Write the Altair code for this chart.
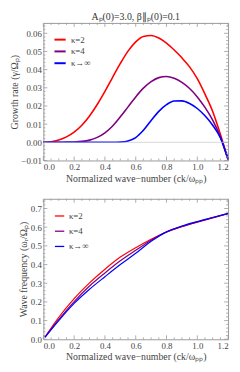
import altair as alt
import pandas as pd

# ---------------- data ----------------
series_names = ["κ=2", "κ=4", "κ→∞"]
series_colors = ["#ff0000", "#800080", "#0000ff"]

k_top = [0.0, 0.05, 0.1, 0.15, 0.2, 0.25, 0.3, 0.35, 0.4, 0.45, 0.5, 0.55, 0.6,
         0.65, 0.7, 0.75, 0.8, 0.85, 0.9, 0.95, 1.0, 1.05, 1.1, 1.15, 1.2]
growth_k2 = [0.0, 0.0003, 0.0013, 0.0030, 0.0056, 0.0094, 0.0145, 0.0208, 0.0280,
             0.0358, 0.0434, 0.0502, 0.0553, 0.0582, 0.0588, 0.0574, 0.0546, 0.0508,
             0.0465, 0.0415, 0.0350, 0.0265, 0.0170, 0.0045, -0.0095]
growth_k4 = [0.0, 0.0, 0.0, 0.0001, 0.0002, 0.0005, 0.0012, 0.0027, 0.0052, 0.0090,
             0.0140, 0.0195, 0.0250, 0.0298, 0.0334, 0.0356, 0.0362, 0.0352, 0.0330,
             0.0296, 0.0250, 0.0192, 0.0122, 0.0030, -0.0095]
growth_kinf = [0.0, 0.0, 0.0, 0.0, 0.0, 0.0, 0.0, 0.0, 0.0, 0.0, 0.0001, 0.0007, 0.0026,
               0.0066, 0.0120, 0.0170, 0.0207, 0.0227, 0.0228, 0.0214, 0.0186, 0.0146,
               0.0094, 0.0025, -0.0095]

k_bot = [0.01, 0.1, 0.2, 0.3, 0.4, 0.5, 0.6, 0.7, 0.8, 0.9, 1.0, 1.1, 1.2]
freq_k2 = [0.012, 0.118, 0.218, 0.302, 0.375, 0.440, 0.490, 0.535, 0.574, 0.603, 0.627, 0.650, 0.672]
freq_k4 = [0.011, 0.106, 0.202, 0.285, 0.355, 0.420, 0.476, 0.530, 0.574, 0.604, 0.628, 0.651, 0.673]
freq_kinf = [0.010, 0.100, 0.192, 0.268, 0.335, 0.400, 0.460, 0.525, 0.575, 0.606, 0.630, 0.652, 0.674]

x_major = [0.0, 0.2, 0.4, 0.6, 0.8, 1.0, 1.2]
x_minor = [0.05, 0.1, 0.15, 0.25, 0.3, 0.35, 0.45, 0.5, 0.55, 0.65, 0.7, 0.75,
           0.85, 0.9, 0.95, 1.05, 1.1, 1.15]
y_top_major = [-0.01, 0.0, 0.01, 0.02, 0.03, 0.04, 0.05, 0.06]
y_top_minor = [-0.008, -0.006, -0.004, -0.002, 0.002, 0.004, 0.006, 0.008,
               0.012, 0.014, 0.016, 0.018, 0.022, 0.024, 0.026, 0.028,
               0.032, 0.034, 0.036, 0.038, 0.042, 0.044, 0.046, 0.048,
               0.052, 0.054, 0.056, 0.058, 0.062, 0.064]
y_bot_major = [0.0, 0.1, 0.2, 0.3, 0.4, 0.5, 0.6, 0.7]
y_bot_minor = [0.02, 0.04, 0.06, 0.08, 0.12, 0.14, 0.16, 0.18, 0.22, 0.24, 0.26, 0.28,
               0.32, 0.34, 0.36, 0.38, 0.42, 0.44, 0.46, 0.48, 0.52, 0.54, 0.56, 0.58,
               0.62, 0.64, 0.66, 0.68, 0.72, 0.74]

title_top = "Aₚ(0)=3.0, β∥ₚ(0)=0.1"
x_title = "Normalized wave−number (ck/ωₚₚ)"
y_title_top = "Growth rate (γ/Ωₚ)"
y_title_bot = "Wave frequency (ωᵣ/Ωₚ)"

# ---------------- build tables ----------------
def long(ks, cols):
    rows = []
    for name, vals in zip(series_names, cols):
        for k, v in zip(ks, vals):
            rows.append({"k": k, "v": v, "series": name})
    return pd.DataFrame(rows)

df_top = long(k_top, [growth_k2, growth_k4, growth_kinf])
df_bot = long(k_bot, [freq_k2, freq_k4, freq_kinf])

FONT = "Liberation Serif"
GRAY = "#999999"
TXT = "#444444"

W_TOP, H_TOP = 188, 140
W_BOT, H_BOT = 188, 143


def panel(df, W, H, ydom, yvals, yminor, yfmt, ytitle, stroke_w, legend_cfg):
    xs = alt.Scale(domain=[0, 1.2], nice=False, zero=False)
    ys = alt.Scale(domain=ydom, nice=False, zero=False)
    xaxis = alt.Axis(values=x_major, format=".1f", title=x_title)
    yaxis = alt.Axis(values=yvals, format=yfmt, title=ytitle)

    layers = []
    # inward tick marks on all four sides
    for vals, ln in ((x_major, 4), (x_minor, 2)):
        tdf = pd.DataFrame({"t": vals})
        layers.append(alt.Chart(tdf).mark_rule(color=GRAY, strokeWidth=0.8).encode(
            x=alt.X("t:Q", scale=xs, axis=xaxis), y=alt.value(H), y2=alt.value(H - ln)))
        layers.append(alt.Chart(tdf).mark_rule(color=GRAY, strokeWidth=0.8).encode(
            x=alt.X("t:Q", scale=xs, axis=xaxis), y=alt.value(0), y2=alt.value(ln)))
    for vals, ln in ((yvals, 4), (yminor, 2)):
        tdf = pd.DataFrame({"t": vals})
        layers.append(alt.Chart(tdf).mark_rule(color=GRAY, strokeWidth=0.8).encode(
            y=alt.Y("t:Q", scale=ys, axis=yaxis), x=alt.value(0), x2=alt.value(ln)))
        layers.append(alt.Chart(tdf).mark_rule(color=GRAY, strokeWidth=0.8).encode(
            y=alt.Y("t:Q", scale=ys, axis=yaxis), x=alt.value(W), x2=alt.value(W - ln)))

    lines = alt.Chart(df).mark_line(interpolate="monotone", strokeWidth=stroke_w).encode(
        x=alt.X("k:Q", scale=xs, axis=xaxis),
        y=alt.Y("v:Q", scale=ys, axis=yaxis),
        color=alt.Color("series:N",
                        scale=alt.Scale(domain=series_names, range=series_colors),
                        legend=alt.Legend(**legend_cfg)),
    )
    return lines, layers, xs, ys, yaxis


legend_common = dict(title=None, orient="none", symbolType="stroke",
                     labelFont=FONT, labelFontSize=9, labelColor=TXT,
                     padding=0)

lines_top, ticks_top, xs_t, ys_t, yaxis_t = panel(
    df_top, W_TOP, H_TOP, [-0.01, 0.0657], y_top_major, y_top_minor, ".2f",
    y_title_top, 1.6,
    dict(legend_common, legendX=10, legendY=10, symbolSize=130,
         symbolStrokeWidth=2, rowPadding=0, labelOffset=4))

zero_line = alt.Chart(pd.DataFrame({"z": [0.0]})).mark_rule(
    color="#cccccc", strokeWidth=0.8).encode(y=alt.Y("z:Q", scale=ys_t, axis=yaxis_t))

top = alt.layer(lines_top, zero_line, *ticks_top).properties(
    width=W_TOP, height=H_TOP,
    title=alt.Title(title_top, font=FONT, fontSize=10, fontWeight="normal",
                    color="#333333", anchor="middle", offset=1),
)

lines_bot, ticks_bot, xs_b, ys_b, _ = panel(
    df_bot, W_BOT, H_BOT, [0.0, 0.752], y_bot_major, y_bot_minor, ".1f",
    y_title_bot, 1.2,
    dict(legend_common, legendX=11, legendY=12, symbolSize=90,
         symbolStrokeWidth=1.3, rowPadding=4.5, labelOffset=4))

bottom = alt.layer(lines_bot, *ticks_bot).properties(width=W_BOT, height=H_BOT)

chart = alt.vconcat(top, bottom, spacing=14).resolve_scale(
    color="independent"
).properties(
    padding={"left": 0, "top": 0, "right": 0, "bottom": 0}
).configure_view(
    stroke=GRAY, strokeWidth=1
).configure_axis(
    domain=False, ticks=False, grid=False,
    labelFont=FONT, labelFontSize=9, labelColor=TXT, labelPadding=2,
    titleFont=FONT, titleFontSize=10, titleFontWeight="normal", titleColor=TXT,
    titlePadding=2,
)

chart.save("out.html", embed_options={"renderer": "svg", "actions": False})
